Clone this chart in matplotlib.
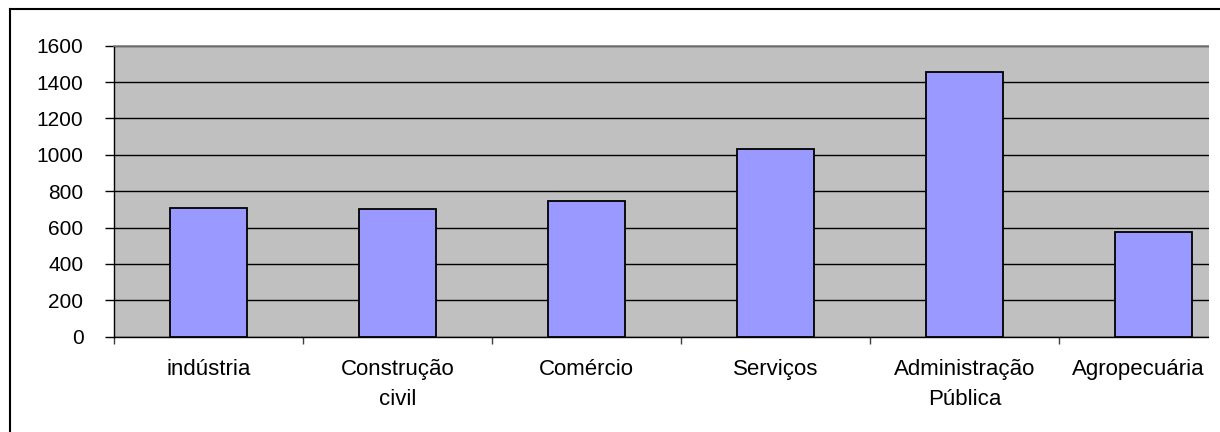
import numpy as np
import matplotlib
import matplotlib.pyplot as plt
from matplotlib.lines import Line2D
from matplotlib.patches import Rectangle
from matplotlib.transforms import ScaledTranslation
matplotlib.use('Agg')

# Daten
setores = ['indústria', 'Construção\ncivil', 'Comércio', 'Serviços',
           'Administração\nPública', 'Agropecuária']
valores = [707, 700, 748, 1032, 1455, 577]
yticks = [0, 200, 400, 600, 800, 1000, 1200, 1400, 1600]

plt.rcParams['font.family'] = ['Liberation Sans', 'DejaVu Sans']

W, H = 1220, 432
fig = plt.figure(figsize=(W / 100, H / 100), dpi=100)
fig.patch.set_facecolor('white')

# Plotbereich (läuft rechts über das Bild hinaus)
ax = fig.add_axes([114 / W, (H - 336.7) / H, 1134 / W, 291 / H])
ax.set_facecolor('#C0C0C0')

x = np.arange(len(setores))
ax.bar(x, valores, width=0.41, color='#9999FF', edgecolor='black',
       linewidth=1.3, zorder=3)

ax.set_xlim(-0.5, len(setores) - 0.5)
ax.set_ylim(0, 1600)
ax.set_yticks(yticks)
ax.yaxis.grid(True, color='black', linewidth=1.0, zorder=1)
ax.set_axisbelow(True)

ax.set_xticks(x)
ax.set_xticklabels(setores, linespacing=1.55)
ax.set_xticks(np.arange(len(setores) + 1) - 0.5, minor=True)
ax.tick_params(axis='x', which='major', length=0, pad=16, labelsize=16)
ax.tick_params(axis='x', which='minor', length=5, width=1, color='#404040',
               direction='out')
ax.tick_params(axis='y', length=6.5, width=1, direction='out', pad=15.5,
               labelsize=15)

# letzte Beschriftung etwas nach links, damit sie ins Bild passt
lbl = ax.get_xticklabels()[-1]
lbl.set_transform(lbl.get_transform() +
                  ScaledTranslation(-0.15, 0, fig.dpi_scale_trans))

for s in ['left', 'bottom']:
    ax.spines[s].set_color('black')
    ax.spines[s].set_linewidth(1.0)
for s in ['top', 'right']:
    ax.spines[s].set_color('#808080')
    ax.spines[s].set_linewidth(1.2)

# rechter Rand abgeschnitten
fig.patches.append(Rectangle((1209 / W, 0), 1, 1, transform=fig.transFigure,
                             facecolor='white', edgecolor='none', zorder=5))

# Rahmen des Diagramms (oben und links)
fig.lines.append(Line2D([10 / W, 10 / W], [0, (H - 9) / H],
                        transform=fig.transFigure, color='black', lw=1.5,
                        zorder=6))
fig.lines.append(Line2D([10 / W, 1], [(H - 9) / H, (H - 9) / H],
                        transform=fig.transFigure, color='black', lw=1.5,
                        zorder=6))

fig.savefig('out.png', dpi=100)
